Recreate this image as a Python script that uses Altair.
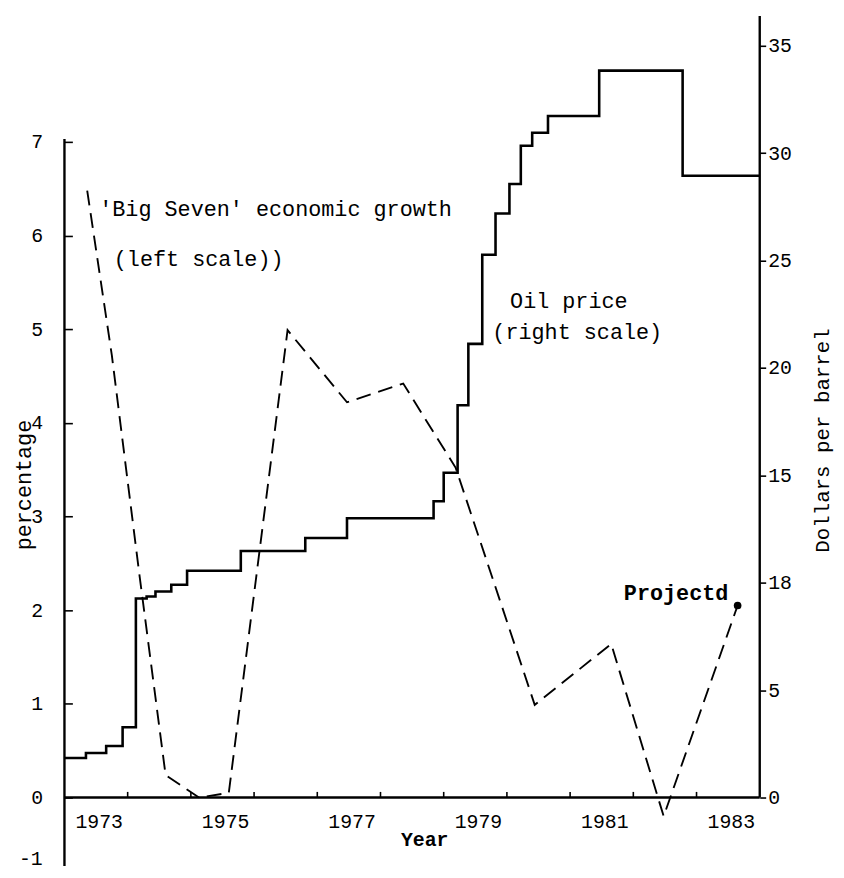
import altair as alt
import pandas as pd

# ---------------- data ----------------
# Oil price (dollars per barrel), level starting at each date (step line)
oil_year = [1973.0, 1973.34, 1973.66, 1973.92, 1974.13, 1974.30, 1974.44, 1974.69,
            1974.94, 1975.79, 1976.81, 1977.47, 1978.84, 1979.0, 1979.22, 1979.39,
            1979.61, 1979.82, 1980.04, 1980.22, 1980.40, 1980.65, 1981.46, 1982.78, 1984.0]
oil_price = [1.84, 2.07, 2.40, 3.27, 9.27, 9.36, 9.59, 9.91,
             10.56, 11.48, 12.08, 13.0, 13.79, 15.12, 18.26, 21.12,
             25.27, 27.19, 28.56, 30.34, 30.95, 31.73, 33.84, 28.95, 28.95]

# 'Big Seven' economic growth (percentage)
growth_year = [1973.36, 1973.75, 1974.18, 1974.60, 1975.13, 1975.60, 1976.53,
               1977.47, 1978.36, 1979.19, 1980.44, 1981.65, 1982.48, 1983.65]
growth_pct = [6.48, 4.72, 2.41, 0.24, 0.0, 0.05, 4.99,
              4.22, 4.42, 3.52, 0.99, 1.64, -0.2, 2.05]

year_labels = [1973, 1975, 1977, 1979, 1981, 1983]
year_ticks = list(range(1974, 1984))
left_ticks = [0, 1, 2, 3, 4, 5, 6, 7]
right_ticks = [0, 5, 10, 15, 20, 25, 30, 35]

annotations = [
    ("'Big Seven' economic growth", 1973.55, 6.21, "normal"),
    ("(left scale))", 1973.78, 5.67, "normal"),
    ("Oil price", 1980.05, 5.23, "normal"),
    ("(right scale)", 1979.77, 4.90, "normal"),
    ("Projectd", 1981.85, 2.11, "bold"),
]

# ---------------- styling / scales ----------------
FONT = "Liberation Mono"
X0, X1 = 1973, 1984
L_LO, L_HI = -0.7296, 8.343
R_LO, R_HI = -3.181, 36.38
MINUS_ONE_POS = -0.656   # where the printed "-1" label sits on the left axis


def xs():
    return alt.Scale(domain=[X0, X1], nice=False, zero=False)


def ls():
    return alt.Scale(domain=[L_LO, L_HI], nice=False, zero=False)


def rs():
    return alt.Scale(domain=[R_LO, R_HI], nice=False, zero=False)


growth_df = pd.DataFrame({"year": growth_year, "pct": growth_pct})
oil_df = pd.DataFrame({"year": oil_year, "price": oil_price})

left_axis = alt.Axis(
    orient="left", values=left_ticks,
    domain=False, grid=False, ticks=True, tickSize=8, tickWidth=1.6,
    tickColor="black",
    offset=-8, labelPadding=22, labelFont=FONT, labelFontSize=20,
    labelColor="black", labelFlush=False, labelOverlap=False,
    title="percentage", titleFont=FONT, titleFontSize=22,
    titleFontWeight="normal", titleColor="black", titleAngle=270,
    titleX=-49, titleY=473, titleAlign="center", titleBaseline="middle",
)

right_axis = alt.Axis(
    orient="right", values=right_ticks,
    labelExpr="datum.value == 10 ? '18' : datum.label",
    domain=False, grid=False, ticks=True, tickSize=6, tickWidth=1.6,
    tickColor="black", labelPadding=2, labelFont=FONT, labelFontSize=20,
    labelColor="black", labelFlush=False, labelOverlap=False,
    title="Dollars per barrel", titleFont=FONT, titleFontSize=21,
    titleFontWeight="normal", titleColor="black", titleAngle=270,
    titleX=63, titleY=428, titleAlign="center", titleBaseline="middle",
)

# ---------------- left-scale layers ----------------
frame_df = pd.DataFrame({
    "x": [X0, X0, X1], "x2": [X1, X0, X1],
    "y": [0, L_LO, 0], "y2": [0, 7.03, L_HI],
})
frame = alt.Chart(frame_df).mark_rule(color="black", strokeWidth=2.4).encode(
    x=alt.X("x:Q", scale=xs(), axis=None), x2="x2:Q",
    y=alt.Y("y:Q", scale=ls(), axis=None), y2="y2:Q",
)

tick_df = pd.DataFrame({"x": year_ticks, "y": 0.0, "y2": 0.06})
xticks = alt.Chart(tick_df).mark_rule(color="black", strokeWidth=1.6).encode(
    x=alt.X("x:Q", scale=xs(), axis=None),
    y=alt.Y("y:Q", scale=ls(), axis=None), y2="y2:Q",
)

growth = alt.Chart(growth_df).mark_line(
    color="black", strokeWidth=1.9, strokeDash=[15, 8]
).encode(
    x=alt.X("year:Q", scale=xs(), axis=None),
    y=alt.Y("pct:Q", scale=ls(), axis=left_axis),
)

end_dot = alt.Chart(growth_df.tail(1)).mark_circle(
    color="black", size=60, opacity=1
).encode(
    x=alt.X("year:Q", scale=xs(), axis=None),
    y=alt.Y("pct:Q", scale=ls(), axis=None),
)

minus_df = pd.DataFrame({"x": [X0], "y": [MINUS_ONE_POS], "label": ["-1"]})
minus_one = alt.Chart(minus_df).mark_text(
    font=FONT, fontSize=20, baseline="middle", align="right", dx=-22, color="black"
).encode(
    x=alt.X("x:Q", scale=xs(), axis=None),
    y=alt.Y("y:Q", scale=ls(), axis=None),
    text="label:N",
)

ylab_df = pd.DataFrame({"x": [y + 0.55 for y in year_labels],
                        "label": [str(y) for y in year_labels], "y": 0.0})
year_text = alt.Chart(ylab_df).mark_text(
    font=FONT, fontSize=20, baseline="middle", align="center", dy=25, color="black"
).encode(
    x=alt.X("x:Q", scale=xs(), axis=None),
    y=alt.Y("y:Q", scale=ls(), axis=None),
    text="label:N",
)

ytitle_df = pd.DataFrame({"x": [1978.7], "y": [0.0], "label": ["Year"]})
year_title = alt.Chart(ytitle_df).mark_text(
    font=FONT, fontSize=20, fontWeight="bold", baseline="middle",
    align="center", dy=43, color="black"
).encode(
    x=alt.X("x:Q", scale=xs(), axis=None),
    y=alt.Y("y:Q", scale=ls(), axis=None),
    text="label:N",
)

ann_df = pd.DataFrame(annotations, columns=["label", "x", "y", "weight"])
ann_layers = []
for w in ["normal", "bold"]:
    ann_layers.append(
        alt.Chart(ann_df[ann_df.weight == w]).mark_text(
            font=FONT, fontSize=22, fontWeight=w, align="left",
            baseline="alphabetic", color="black"
        ).encode(
            x=alt.X("x:Q", scale=xs(), axis=None),
            y=alt.Y("y:Q", scale=ls(), axis=None),
            text="label:N",
        )
    )

# ---------------- right-scale layer ----------------
oil = alt.Chart(oil_df).mark_line(
    color="black", strokeWidth=2.6, interpolate="step-after"
).encode(
    x=alt.X("year:Q", scale=xs(), axis=None),
    y=alt.Y("price:Q", scale=rs(), axis=right_axis),
)

chart = alt.layer(
    frame, xticks, end_dot, minus_one, year_text, year_title, *ann_layers, growth, oil
).resolve_scale(y="independent").properties(
    width=702, height=858,
    autosize=alt.AutoSizeParams(type="none"),
    padding={"left": 57, "top": 4, "right": 77, "bottom": 0},
    background="white",
).configure_view(stroke=None)

chart.save("out.html", embed_options={"renderer": "svg", "actions": False})
